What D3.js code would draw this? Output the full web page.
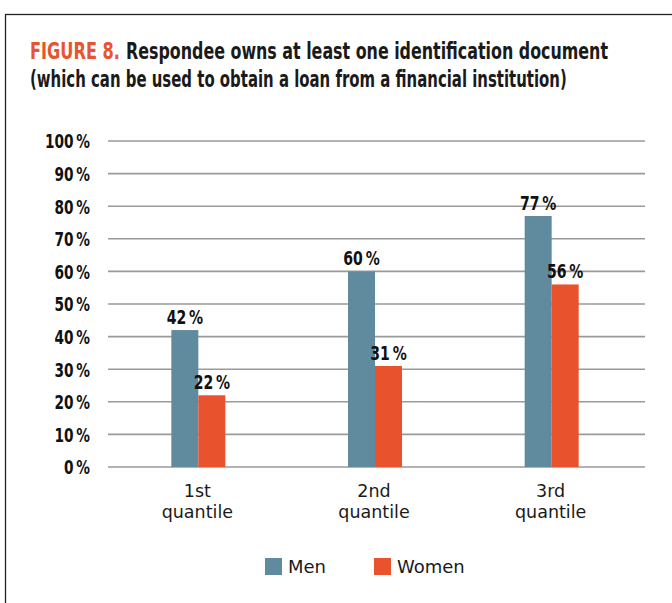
<!DOCTYPE html>
<html>
<head>
<meta charset="utf-8">
<script src="https://cdn.jsdelivr.net/npm/d3@7"></script>
<style>
  html, body { margin: 0; padding: 0; background: #fff; }
  svg { display: block; }
</style>
</head>
<body>
<svg id="chart" width="672" height="603"></svg>
<script>
const categories = [["1st", "quantile"], ["2nd", "quantile"], ["3rd", "quantile"]];
const seriesNames = ["Men", "Women"];
const menValues = [42, 60, 77];
const womenValues = [22, 31, 56];
const yTicks = [0, 10, 20, 30, 40, 50, 60, 70, 80, 90, 100];
const titleLead = "FIGURE 8.";
const titleLine1 = "Respondee owns at least one identification document";
const titleLine2 = "(which can be used to obtain a loan from a financial institution)";

const colors = { Men: "#608b9f", Women: "#e8522d" };
const condensed = "'Liberation Sans Narrow', 'DejaVu Sans Condensed', sans-serif";
const regular = "'DejaVu Sans', sans-serif";
const squeeze = 0.8;

const svg = d3.select("#chart");

function narrow(sel, factor) {
  sel.each(function () {
    const len = this.getComputedTextLength();
    d3.select(this).attr("textLength", len * factor).attr("lengthAdjust", "spacingAndGlyphs");
  });
}

// draws a condensed text squeezed horizontally to a given width
function squeezedText(str, x, y, width, fill) {
  const g = svg.append("g");
  const t = g.append("text")
    .attr("x", 0).attr("y", 0)
    .attr("font-family", condensed).attr("font-weight", "bold")
    .attr("font-size", 23).attr("fill", fill)
    .text(str);
  const len = t.node().getComputedTextLength();
  g.attr("transform", `translate(${x},${y}) scale(${width / len},1)`);
}

// frame
svg.append("rect")
  .attr("x", 5.5).attr("y", 14.5)
  .attr("width", 700).attr("height", 700)
  .attr("fill", "none").attr("stroke", "#222").attr("stroke-width", 1.3);

// title
squeezedText(titleLead, 30, 59, 90, "#e8542f");
squeezedText(titleLine1, 126, 59, 482, "#1a1a1a");
squeezedText(titleLine2, 30, 87, 537, "#1a1a1a");

const x0 = 108, x1 = 645, yTop = 141, yBottom = 467;

const x = d3.scaleBand().domain(d3.range(categories.length))
  .range([110, 640]).paddingInner(0).paddingOuter(0);
const xs = d3.scaleBand().domain(seriesNames).range([0, 54]);
const y = d3.scaleLinear().domain([0, 100]).range([yBottom, yTop]);

// gridlines
svg.append("g").selectAll("line").data(yTicks).join("line")
  .attr("x1", x0).attr("x2", x1)
  .attr("y1", d => y(d)).attr("y2", d => y(d))
  .attr("stroke", "#9a9a9a").attr("stroke-width", 1.6);

// y axis labels
const yAxis = d3.axisLeft(y).tickValues(yTicks).tickSize(0).tickPadding(0)
  .tickFormat(d => d + "\u2009%");
const gy = svg.append("g").attr("transform", "translate(90,0)").call(yAxis);
gy.select(".domain").remove();
gy.selectAll("text")
  .attr("font-family", condensed).attr("font-weight", "bold")
  .attr("font-size", 19).attr("fill", "#111").attr("dy", "0.36em")
  .call(narrow, squeeze);

// bars
const data = [];
categories.forEach((c, i) => {
  data.push({ i, s: "Men", v: menValues[i] });
  data.push({ i, s: "Women", v: womenValues[i] });
});
const barX = d => x(d.i) + x.bandwidth() / 2 - 27 + xs(d.s);

svg.append("g").selectAll("rect").data(data).join("rect")
  .attr("x", barX)
  .attr("y", d => y(d.v))
  .attr("width", xs.bandwidth())
  .attr("height", d => y(0) - y(d.v))
  .attr("fill", d => colors[d.s]);

svg.append("g").selectAll("text").data(data).join("text")
  .attr("x", d => barX(d) + xs.bandwidth() / 2)
  .attr("y", d => y(d.v) - 6)
  .attr("text-anchor", "middle")
  .attr("font-family", condensed).attr("font-weight", "bold")
  .attr("font-size", 19.5).attr("fill", "#111")
  .text(d => d.v + "\u2009%")
  .call(narrow, squeeze);

// x labels
const xl = svg.append("g").selectAll("text").data(categories).join("text")
  .attr("x", (d, i) => x(i) + x.bandwidth() / 2 - 1)
  .attr("y", 497)
  .attr("text-anchor", "middle")
  .attr("font-family", regular).attr("font-size", 17.5).attr("fill", "#1a1a1a");
xl.append("tspan").text(d => d[0]);
xl.append("tspan").attr("x", (d, i) => x(i) + x.bandwidth() / 2 - 1).attr("dy", 21).text(d => d[1]);

// legend
const legendX = [265, 374];
const lg = svg.append("g").selectAll("g").data(seriesNames).join("g")
  .attr("transform", (d, i) => `translate(${legendX[i]},558)`);
lg.append("rect").attr("width", 17).attr("height", 17).attr("fill", d => colors[d]);
lg.append("text").attr("x", 23).attr("y", 15)
  .attr("font-family", regular).attr("font-size", 18).attr("fill", "#1a1a1a")
  .text(d => d);
</script>
</body>
</html>
